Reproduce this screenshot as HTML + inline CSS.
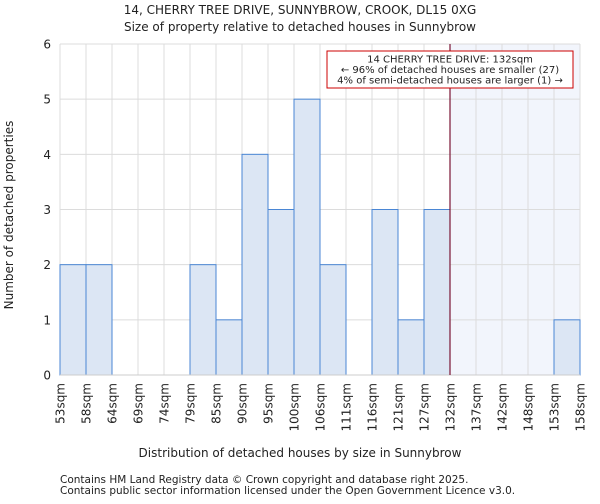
<!DOCTYPE html>
<html><head><meta charset="utf-8"><style>
body{margin:0;background:#fff;font-family:"DejaVu Sans","Liberation Sans",sans-serif}
svg text{font-family:"DejaVu Sans","Liberation Sans",sans-serif;fill:#222}
</style></head><body>
<svg id="c" width="600" height="500">
<text x="300" y="14" font-size="12" text-anchor="middle">14, CHERRY TREE DRIVE, SUNNYBROW, CROOK, DL15 0XG</text>
</svg>
<script>
const categories=["53sqm","58sqm","64sqm","69sqm","74sqm","79sqm","85sqm","90sqm","95sqm","100sqm","106sqm","111sqm","116sqm","121sqm","127sqm","132sqm","137sqm","142sqm","148sqm","153sqm","158sqm"];
const counts=[2,2,0,0,0,2,1,4,3,5,2,0,3,1,3,0,0,0,0,1];
const yTicks=[0,1,2,3,4,5,6];
const markerIndex=15;
const NS="http://www.w3.org/2000/svg";
const svg=document.getElementById('c');
const L=60,R=580,T=44,B=375,yMax=6;
const bw=(R-L)/counts.length;
const xs=i=>L+i*bw;
const ys=v=>B-(v/yMax)*(B-T);
function mk(tag,attrs,parent){const e=document.createElementNS(NS,tag);for(const k in attrs)e.setAttribute(k,attrs[k]);(parent||svg).appendChild(e);return e;}
let t2=mk('text',{x:300,y:31,'font-size':12,'text-anchor':'middle'});t2.textContent="Size of property relative to detached houses in Sunnybrow";


let sh=mk('rect',{x:xs(markerIndex),y:T,width:R-xs(markerIndex),height:B-T,fill:'#f2f5fc'});


for(let i=0;i<=counts.length;i++){let g=mk('line',{x1:xs(i),x2:xs(i),y1:T,y2:B,stroke:'#dcdcdc','stroke-width':1});

}
yTicks.forEach(v=>{let g=mk('line',{x1:L,x2:R,y1:ys(v),y2:ys(v),stroke:'#dcdcdc'});


let tx=mk('text',{x:L-9,y:ys(v)+4.5,'font-size':12,'text-anchor':'end'});tx.textContent=v;

});
counts.forEach((v,i)=>{if(v<=0)return;let r=mk('rect',{x:xs(i),y:ys(v),width:bw,height:B-ys(v),fill:'#dce6f4',stroke:'#4a86d4','stroke-width':1});

});
categories.forEach((c,i)=>{let tx=mk('text',{transform:`translate(${xs(i)+4.5},${B+8}) rotate(-90)`,'font-size':12,'text-anchor':'end'});tx.textContent=c;

});
let ax=mk('line',{x1:L,x2:R,y1:B,y2:B,stroke:'#ccc'});


let ml=mk('line',{x1:xs(markerIndex),x2:xs(markerIndex),y1:T,y2:B,stroke:'#7a1535','stroke-width':1.2});


let bx=mk('rect',{x:327,y:51,width:246,height:37,fill:'#fff',stroke:'#cc0000'});


["14 CHERRY TREE DRIVE: 132sqm","← 96% of detached houses are smaller (27)","4% of semi-detached houses are larger (1) →"].forEach((s,k)=>{let tx=mk('text',{x:450,y:62.5+k*10.5,'font-size':10,'text-anchor':'middle'});tx.textContent=s;

});
let xt=mk('text',{x:300,y:457,'font-size':12,'text-anchor':'middle'});xt.textContent="Distribution of detached houses by size in Sunnybrow";


let yt=mk('text',{transform:'translate(13,215) rotate(-90)','font-size':12,'text-anchor':'middle'});yt.textContent="Number of detached properties";


["Contains HM Land Registry data © Crown copyright and database right 2025.","Contains public sector information licensed under the Open Government Licence v3.0."].forEach((s,k)=>{let tx=mk('text',{x:60,y:483+k*11,'font-size':10.5,fill:'#444'});tx.textContent=s;

});
</script>
</body></html>
